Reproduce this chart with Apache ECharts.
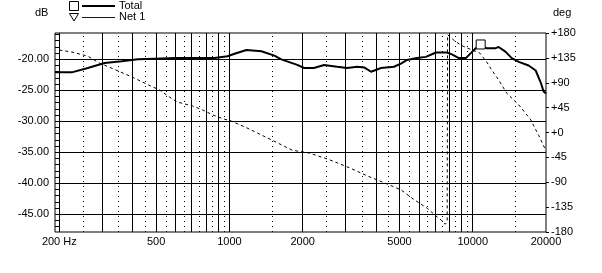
<!DOCTYPE html>
<html>
<head>
<meta charset="utf-8">
<script src="https://cdn.jsdelivr.net/npm/echarts@6/dist/echarts.min.js"></script>
<style>
html,body{margin:0;padding:0;background:#fff;}
#c{width:602px;height:273px;}
</style>
</head>
<body>
<div id="c"></div>
<script>
// ---- data ----
const totalHz = [192, 225, 262, 307, 361, 420, 493, 595, 868, 982, 1050, 1175, 1354, 1530, 1634, 1900, 2030, 2224, 2450, 2772, 3046, 3350, 3580, 3820, 4200, 4745, 5070, 5370, 5900, 6420, 7060, 7830, 8210, 8770, 9370, 9820, 10290, 10780, 11420, 12430, 12780, 13660, 14460, 15450, 16970, 18140, 19010, 19560, 20000];
const totalDb = [-22.1, -22.1, -21.4, -20.6, -20.3, -20.0, -19.9, -19.8, -19.8, -19.5, -19.1, -18.5, -18.7, -19.4, -20.0, -20.9, -21.4, -21.4, -20.9, -21.2, -21.4, -21.2, -21.3, -22.0, -21.4, -21.2, -20.7, -20.1, -19.8, -19.6, -18.9, -18.9, -19.2, -19.8, -19.8, -19.0, -18.2, -17.9, -18.2, -18.2, -18.0, -18.8, -19.8, -20.4, -21.0, -21.8, -23.7, -25.2, -25.5];
const phaseHz = [200, 223, 262, 291, 338, 400, 465, 516, 568, 612, 706, 775, 852, 953, 1000, 1171, 1500, 1811, 2122, 2533, 3122, 3707, 4444, 5080, 5720, 6500, 7060, 7500, 7700, 7850, 7880, 8360, 8940, 9460, 10670, 11400, 11970, 12780, 13800, 15460, 17300, 18660, 19740, 20000];
const phaseDeg = [149, 146, 138, 126, 114, 100, 86, 77, 64, 55, 48, 41, 32, 24, 22, 9, -14, -32, -37, -48, -64, -79, -93, -104, -121, -137, -151, -160, -166, -162, 177, 167, 158, 153, 144, 128, 113, 95, 71, 50, 23, -5, -28, -32];
const markerHz = 10780;
const markerDb = -17.6;
const xTickLabels = [200, 500, 1000, 2000, 5000, 10000, 20000];
const solidGridHz = [200, 300, 400, 500, 600, 700, 800, 900, 1000, 2000, 3000, 4000, 5000, 6000, 7000, 8000, 9000, 10000];
const dottedGridHz = [250, 350, 450, 550, 650, 750, 850, 950, 1500, 2500, 3500, 4500, 5500, 6500, 7500, 8500, 9500, 15000];
const dbTickLabels = [-20, -25, -30, -35, -40, -45];
const dbMinorTicks = [-47, -46, -45, -44, -43, -42, -41, -40, -39, -38, -37, -36, -35, -34, -33, -32, -31, -30, -29, -28, -27, -26, -25, -24, -23, -22, -21, -20, -19, -18, -17, -16];
const seriesNames = ['Total', 'Net 1'];

const FONT = '"Liberation Sans", Arial, sans-serif';
const chart = echarts.init(document.getElementById('c'), null, {renderer: 'canvas'});

const gridMarks = []
  .concat(solidGridHz.map(v => ({xAxis: v, lineStyle: {color: '#000', width: 1, type: 'solid'}})))
  .concat(dottedGridHz.map(v => ({xAxis: v, lineStyle: {color: '#000', width: 1, type: [1, 4]}})))
  .concat(dbTickLabels.map(v => ({yAxis: v, lineStyle: {color: '#000', width: 1, type: 'solid'}})));

const option = {
  animation: false,
  backgroundColor: '#fff',
  grid: {left: 55, right: 56, top: 33, bottom: 41, show: true, borderColor: '#000', borderWidth: 1, backgroundColor: 'transparent'},
  xAxis: {
    type: 'log', logBase: 10, min: 192, max: 20000,
    axisLine: {show: false}, axisTick: {show: false}, splitLine: {show: false}, minorTick: {show: false}, minorSplitLine: {show: false},
    axisLabel: {
      customValues: xTickLabels, margin: 4, color: '#000', fontFamily: FONT, fontSize: 11,
      formatter: v => (Math.round(v) === 200 ? '200 Hz' : String(Math.round(v)))
    }
  },
  yAxis: [
    {
      type: 'value', min: -47.85, max: -15.75, position: 'left',
      axisLine: {show: false}, splitLine: {show: false},
      axisTick: {show: true, inside: true, length: 5, customValues: dbMinorTicks, lineStyle: {color: '#000'}},
      axisLabel: {customValues: dbTickLabels, margin: 6, color: '#000', fontFamily: FONT, fontSize: 11, formatter: v => v.toFixed(2)}
    },
    {
      type: 'value', min: -180, max: 180, interval: 45, position: 'right',
      axisLine: {show: false}, splitLine: {show: false},
      axisTick: {show: true, inside: false, length: 3, lineStyle: {color: '#000'}},
      axisLabel: {margin: 5, color: '#000', fontFamily: FONT, fontSize: 11, formatter: v => (v >= 0 ? '+' + v : String(v))}
    }
  ],
  series: [
    {
      type: 'line', name: 'grid', data: [], silent: true, z: 1,
      markLine: {silent: true, z: 1, symbol: ['none', 'none'], label: {show: false}, animation: false, data: gridMarks}
    },
    {
      type: 'line', name: seriesNames[0], xAxisIndex: 0, yAxisIndex: 0, z: 4,
      data: totalHz.map((f, i) => [f, totalDb[i]]),
      showSymbol: false, symbol: 'none',
      lineStyle: {color: '#000', width: 2},
      markPoint: {
        symbol: 'rect', symbolSize: [9, 9], silent: true, z: 6,
        itemStyle: {color: '#fff', borderColor: '#000', borderWidth: 1},
        label: {show: false},
        data: [{coord: [markerHz, markerDb]}]
      }
    },
    {
      type: 'line', name: seriesNames[1], xAxisIndex: 0, yAxisIndex: 1, z: 3,
      data: phaseHz.map((f, i) => [f, phaseDeg[i]]),
      showSymbol: false, symbol: 'none',
      lineStyle: {color: '#000', width: 1, type: [3, 3]}
    }
  ],
  graphic: [
    {type: 'text', left: 35, top: 7, style: {text: 'dB', fill: '#000', font: '11px ' + FONT}},
    {type: 'text', left: 553, top: 7, style: {text: 'deg', fill: '#000', font: '11px ' + FONT}},
    {type: 'rect', shape: {x: 69.5, y: 1.5, width: 9, height: 9}, style: {fill: '#fff', stroke: '#000', lineWidth: 1}},
    {type: 'line', shape: {x1: 82, y1: 6, x2: 115, y2: 6}, style: {stroke: '#000', lineWidth: 2}},
    {type: 'text', left: 119, top: 0, style: {text: seriesNames[0], fill: '#000', font: '11px ' + FONT}},
    {type: 'polygon', shape: {points: [[69.5, 13.5], [78.5, 13.5], [74, 21]]}, style: {fill: '#fff', stroke: '#000', lineWidth: 1}},
    {type: 'line', shape: {x1: 82, y1: 17.5, x2: 115, y2: 17.5}, style: {stroke: '#0000c8', lineWidth: 1}},
    {type: 'text', left: 119, top: 11, style: {text: seriesNames[1], fill: '#000', font: '11px ' + FONT}}
  ]
};
chart.setOption(option);
</script>
</body>
</html>
